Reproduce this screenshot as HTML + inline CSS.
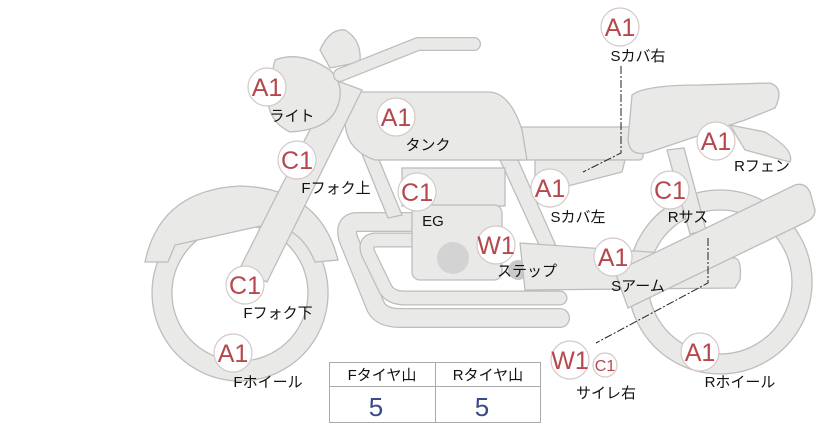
<!DOCTYPE html>
<html><head><meta charset="utf-8"><style>
html,body{margin:0;padding:0;background:#fff;}
svg{display:block;}
.b{fill:#fff;stroke:#d6c8c8;stroke-width:1.2;}
.bt{font-family:"Liberation Sans","Noto Sans CJK JP",sans-serif;fill:#b5484c;font-size:25px;text-anchor:middle;}
.lb{font-family:"Liberation Sans","Noto Sans CJK JP",sans-serif;fill:#111;font-size:15px;text-anchor:middle;}
.p{fill:#e9e9e7;stroke:#bdbdbd;stroke-width:1.3;}
</style></head><body>
<svg width="822" height="425" viewBox="0 0 822 425" xmlns="http://www.w3.org/2000/svg">
<path class="p" fill-rule="evenodd" d="M720,190a92,92 0 1,0 0.1,0zM720,210a72,72 0 1,1 -0.1,0z"/>
<path class="p" fill-rule="evenodd" d="M240,205a88,88 0 1,0 0.1,0zM240,225a68,68 0 1,1 -0.1,0z"/>
<path class="p" d="M145,262 Q160,190 240,186 Q320,188 338,260 L315,262 Q300,225 265,225 L175,245 L168,262 Z"/>
<!-- exhaust pipes -->
<path d="M410,222 L358,222 Q344,222 348,238 L375,305 Q380,318 400,318 L560,318" fill="none" stroke="#bdbdbd" stroke-width="20" stroke-linecap="round" stroke-linejoin="round"/>
<path d="M410,222 L358,222 Q344,222 348,238 L375,305 Q380,318 400,318 L560,318" fill="none" stroke="#e9e9e7" stroke-width="17.5" stroke-linecap="round" stroke-linejoin="round"/>
<path d="M410,240 L375,240 Q364,241 368,253 L385,288 Q390,298 405,298 L560,298" fill="none" stroke="#bdbdbd" stroke-width="15" stroke-linecap="round" stroke-linejoin="round"/>
<path d="M410,240 L375,240 Q364,241 368,253 L385,288 Q390,298 405,298 L560,298" fill="none" stroke="#e9e9e7" stroke-width="12.5" stroke-linecap="round" stroke-linejoin="round"/>
<path class="p" d="M338,95 L352,95 L402,215 L388,218 Z"/>
<path class="p" d="M500,160 L518,160 L560,255 L545,258 Z"/>
<rect class="p" x="402" y="168" width="103" height="38"/>
<rect class="p" x="412" y="205" width="90" height="75" rx="8"/>
<circle cx="453" cy="258" r="16" fill="#d3d3d3"/>
<circle cx="518" cy="270" r="10" fill="#c9c9c9"/>
<circle cx="557" cy="268" r="9" fill="#c9c9c9"/>
<path class="p" d="M520,243 L735,258 Q742,260 740,280 L735,288 L525,290 Z"/>
<path class="p" d="M667,150 L684,148 L706,230 L690,234 Z"/>
<rect class="p" x="513" y="127" width="130" height="33" rx="4"/>
<path class="p" d="M535,160 L625,160 L622,172 L545,192 L535,192 Z"/>
<path class="p" d="M615,272 L795,185 Q805,182 810,192 L815,210 Q815,218 806,222 L628,308 Z"/>
<path class="p" d="M632,95 Q645,85 700,85 L770,83 Q785,88 775,108 L745,120 L650,152 Q630,158 628,140 Z"/>
<path class="p" d="M730,125 L765,132 Q795,150 790,162 L745,150 Z"/>
<path class="p" d="M355,92 L488,92 Q510,92 522,130 L527,160 L375,160 Q345,150 345,120 Z"/>
<!-- fork -->
<path class="p" d="M335,80 L362,90 L267,282 L240,268 Z"/>
<path class="p" d="M275,60 Q300,50 330,70 Q345,85 338,105 Q330,130 290,132 Q265,120 268,90 Z"/>
<path class="p" d="M320,50 Q330,28 345,30 Q362,40 360,62 L330,68 Z"/>
<path d="M340,75 L418,44 L474,44" fill="none" stroke="#bdbdbd" stroke-width="14" stroke-linecap="round" stroke-linejoin="round"/>
<path d="M340,75 L418,44 L474,44" fill="none" stroke="#e9e9e7" stroke-width="11.5" stroke-linecap="round" stroke-linejoin="round"/>
<polyline points="621,66 621,153 583,172" fill="none" stroke="#222" stroke-width="1" stroke-dasharray="8,2,2,2"/>
<polyline points="708,238 708,283 596,343" fill="none" stroke="#222" stroke-width="1" stroke-dasharray="8,2,2,2"/>
<rect x="329.5" y="362.5" width="211" height="60" fill="#fff" stroke="#aaa"/>
<line x1="329" y1="386.5" x2="540" y2="386.5" stroke="#aaa"/>
<line x1="435.5" y1="362" x2="435.5" y2="423" stroke="#aaa"/>
<text class="lb" x="382" y="380">Fタイヤ山</text>
<text class="lb" x="488" y="380">Rタイヤ山</text>
<text x="376" y="416" font-family="Liberation Sans,sans-serif" font-size="26" fill="#3b4a8c" text-anchor="middle">5</text>
<text x="482" y="416" font-family="Liberation Sans,sans-serif" font-size="26" fill="#3b4a8c" text-anchor="middle">5</text>
<g>
<circle class="b" cx="620" cy="27" r="19"/><text class="bt" x="620" y="36">A1</text><text class="lb" x="638" y="61">Sカバ右</text>
<circle class="b" cx="267" cy="87" r="19"/><text class="bt" x="267" y="96">A1</text><text class="lb" x="292" y="121">ライト</text>
<circle class="b" cx="396" cy="117" r="19"/><text class="bt" x="396" y="126">A1</text><text class="lb" x="428" y="150">タンク</text>
<circle class="b" cx="297" cy="160" r="19"/><text class="bt" x="297" y="169">C1</text><text class="lb" x="336" y="193">Fフォク上</text>
<circle class="b" cx="417" cy="192" r="19"/><text class="bt" x="417" y="201">C1</text><text class="lb" x="433" y="226">EG</text>
<circle class="b" cx="550" cy="188" r="19"/><text class="bt" x="550" y="197">A1</text><text class="lb" x="578" y="222">Sカバ左</text>
<circle class="b" cx="670" cy="190" r="19"/><text class="bt" x="670" y="199">C1</text><text class="lb" x="688" y="222">Rサス</text>
<circle class="b" cx="716" cy="141" r="19"/><text class="bt" x="716" y="150">A1</text><text class="lb" x="762" y="171">Rフェン</text>
<circle class="b" cx="496" cy="245" r="19"/><text class="bt" x="496" y="254">W1</text><text class="lb" x="527" y="276">ステップ</text>
<circle class="b" cx="613" cy="257" r="19"/><text class="bt" x="613" y="266">A1</text><text class="lb" x="638" y="291">Sアーム</text>
<circle class="b" cx="245" cy="285" r="19"/><text class="bt" x="245" y="294">C1</text><text class="lb" x="278" y="318">Fフォク下</text>
<circle class="b" cx="233" cy="353" r="19"/><text class="bt" x="233" y="362">A1</text><text class="lb" x="268" y="387">Fホイール</text>
<circle class="b" cx="570" cy="360" r="19"/><text class="bt" x="570" y="369">W1</text>
<circle class="b" cx="605" cy="365" r="12"/><text class="bt" x="605" y="371" style="font-size:16px">C1</text>
<text class="lb" x="606" y="398">サイレ右</text>
<circle class="b" cx="700" cy="352" r="19"/><text class="bt" x="700" y="361">A1</text><text class="lb" x="740" y="387">Rホイール</text>
</g>
</svg>
</body></html>
